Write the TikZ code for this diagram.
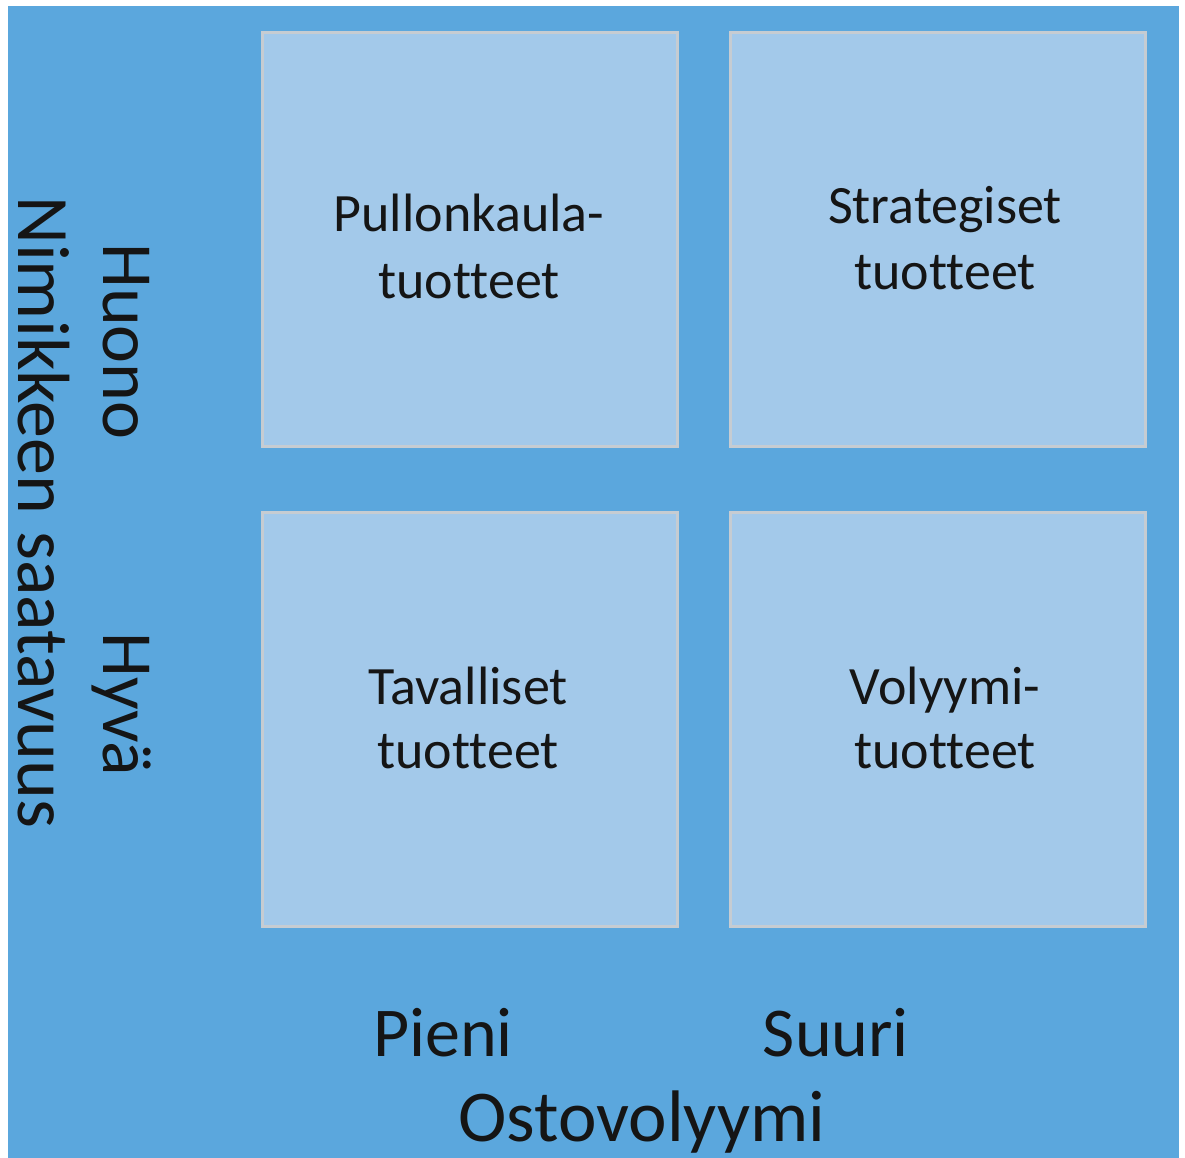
\documentclass[tikz,border=0pt]{standalone}
\usepackage{fontspec}
\setmainfont[Ligatures=CommonOff]{Carlito}
\definecolor{bgblue}{HTML}{5BA7DD}
\definecolor{boxfill}{HTML}{A3C9EA}
\definecolor{boxline}{HTML}{C6CCD2}
\definecolor{ink}{HTML}{151515}
\begin{document}
\begin{tikzpicture}[x=1pt,y=-1pt,
  quad/.style={draw=boxline, line width=3pt, fill=boxfill, minimum width=415pt, minimum height=414pt, inner sep=0pt, outer sep=0pt},
  boxtext/.style={text=ink, font=\fontsize{54}{65}\selectfont, anchor=base, inner sep=0pt},
  axistext/.style={text=ink, font=\fontsize{70}{84}\selectfont, anchor=base, inner sep=0pt},
  sidetext/.style={text=ink, font=\fontsize{72}{86}\selectfont, anchor=base west, rotate=-90, inner sep=0pt}]
\useasboundingbox (0,0) rectangle (1185,1158);
\fill[white] (0,0) rectangle (1185,1158);
\fill[bgblue] (8,6) rectangle (1179,1158);
% quadrants
\node[quad] (q1) at (470,239.5) {};
\node[quad] (q2) at (937.5,239.5) {};
\node[quad] (q3) at (470,719.5) {};
\node[quad] (q4) at (937.5,719.5) {};
% quadrant texts
\node[boxtext] (t1a) at (469,232) {Pullonkaula-};
\node[boxtext] (t1b) at (469,298) {tuotteet};
\node[boxtext] (t2a) at (945,224) {Strategiset};
\node[boxtext] (t2b) at (945,289) {tuotteet};
\node[boxtext] (t3a) at (468,704) {Tavalliset};
\node[boxtext] (t3b) at (468,768) {tuotteet};
\node[boxtext] (t4a) at (945,704) {Volyymi-};
\node[boxtext] (t4b) at (945,768) {tuotteet};
% axis labels
\node[axistext] (pieni) at (443,1056) {Pieni};
\node[axistext] (suuri) at (836,1056) {Suuri};
\node[axistext, font=\fontsize{73}{86}\selectfont] (osto) at (642,1141) {Ostovolyymi};
\node[sidetext] (huono) at (103,243) {Huono};
\node[sidetext] (hyva) at (103,632) {Hyvä};
\node[sidetext, font=\fontsize{74}{88}\selectfont] (nimike) at (18,196) {Nimikkeen saatavuus};
\end{tikzpicture}
\end{document}
